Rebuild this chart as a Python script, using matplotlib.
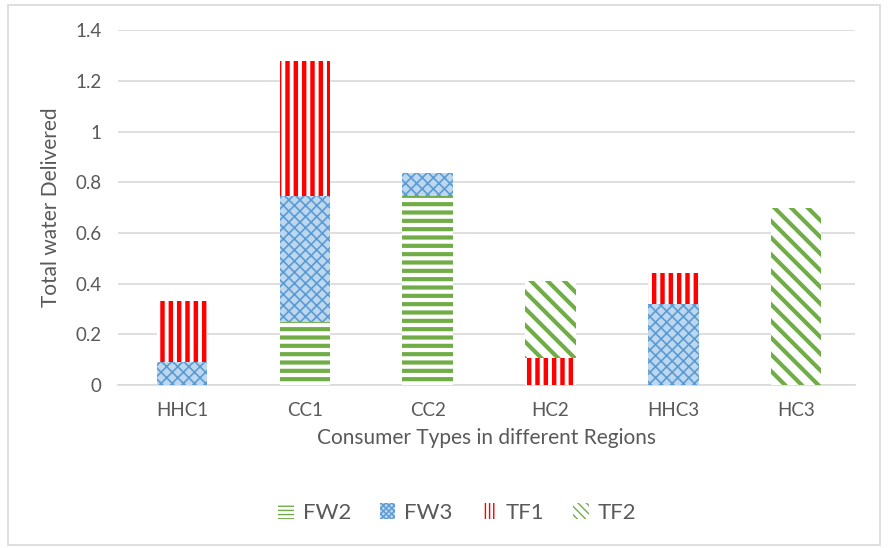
import numpy as np
import matplotlib.pyplot as plt
from matplotlib.patches import Rectangle

plt.rcParams['font.family'] = ['Lato', 'DejaVu Sans']

categories = ['HHC1', 'CC1', 'CC2', 'HC2', 'HHC3', 'HC3']
series = ['FW2', 'FW3', 'TF1', 'TF2']
fw2 = [0.0, 0.25, 0.745, 0.0, 0.0, 0.0]
fw3 = [0.09, 0.495, 0.09, 0.0, 0.32, 0.0]
tf1 = [0.24, 0.535, 0.0, 0.105, 0.12, 0.0]
tf2 = [0.0, 0.0, 0.0, 0.305, 0.0, 0.70]

green = '#70AD47'
blue = '#5B9BD5'
red = '#FF0000'
text_col = '#595959'

# face, hatch colour, bar hatch, legend hatch, hatch line width
styles = {
    'FW2': dict(face='white', edge=green, hatch='--', leg='----', hlw=3.0),
    'FW3': dict(face='#BDD7EE', edge=blue, hatch='xxx', leg='xxxxxx', hlw=1.2),
    'TF1': dict(face='white', edge=red, hatch='||', leg='||||', hlw=3.2),
    'TF2': dict(face='white', edge=green, hatch='\\\\', leg='\\\\\\\\', hlw=3.0),
}

fig = plt.figure(figsize=(8.88, 5.48), dpi=100)
ax = fig.add_axes([0.133, 0.2974, 0.83, 0.6476])

x = np.arange(len(categories))
bottom = np.zeros(len(categories))
handles = []
for name, vals in zip(series, [fw2, fw3, tf1, tf2]):
    st = styles[name]
    with plt.rc_context({'hatch.linewidth': st['hlw']}):
        ax.bar(x + 0.02, vals, 0.41, bottom=bottom, color=st['face'],
               edgecolor=st['edge'], hatch=st['hatch'], lw=0, zorder=3)
        handles.append(Rectangle((0, 0), 1, 1, facecolor=st['face'],
                                 edgecolor=st['edge'], hatch=st['leg'], lw=0))
    bottom += np.array(vals)

ax.set_xlim(-0.5, len(categories) - 0.5)
ax.set_ylim(0, 1.4)
ax.set_yticks(np.arange(0, 1.41, 0.2))
ax.set_yticklabels(['0', '0.2', '0.4', '0.6', '0.8', '1', '1.2', '1.4'])
ax.set_xticks(x + 0.02)
ax.set_xticklabels(categories)
ax.yaxis.grid(True, color='#D9D9D9', lw=1.2, zorder=0)
ax.set_axisbelow(True)
for s in ['top', 'right', 'left']:
    ax.spines[s].set_visible(False)
ax.spines['bottom'].set_color('#D9D9D9')
ax.spines['bottom'].set_linewidth(1.2)
ax.tick_params(length=0, labelsize=13.5, colors=text_col, pad=12)
ax.tick_params(axis='x', pad=12)

ax.set_xlabel('Consumer Types in different Regions', fontsize=15, color=text_col, labelpad=7)
ax.set_ylabel('Total water Delivered', fontsize=15, color=text_col, labelpad=10)

fig.legend(handles, series, loc='center', bbox_to_anchor=(0.515, 0.064), ncol=4,
           frameon=False, fontsize=16, labelcolor=text_col, handlelength=0.7,
           handleheight=0.7, handletextpad=0.4, columnspacing=1.3)

fig.patches.append(Rectangle((8 / 888, 3 / 548), 872 / 888, 540 / 548,
                             transform=fig.transFigure, fill=False,
                             edgecolor='#D9D9D9', lw=1.2))

fig.savefig('out.png', dpi=100)
